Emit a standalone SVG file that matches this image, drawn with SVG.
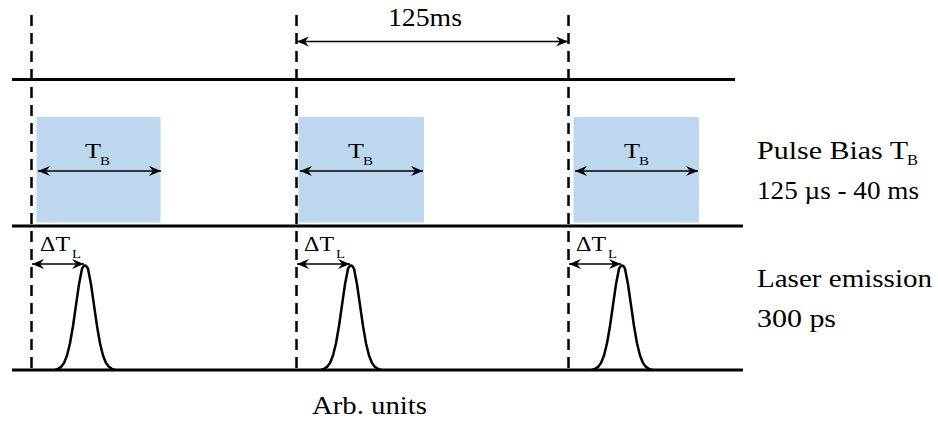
<svg xmlns="http://www.w3.org/2000/svg" width="938" height="423" viewBox="0 0 938 423">
<style>
.axis{stroke:#000;stroke-width:3;fill:none}
.dash{stroke:#000;stroke-width:2.5;stroke-dasharray:11 7;fill:none}
.bias{fill:#BDD7EE}
.arr{stroke:#000;stroke-width:1.5;fill:none;marker-start:url(#ah);marker-end:url(#ah)}
.pulse{stroke:#000;stroke-width:2.5;fill:none;stroke-linejoin:round}
.lab{font-size:25px}
.sm{font-size:20px}
.sub{font-size:12px}
.sub2{font-size:15px}
</style>
<defs>
<marker id="ah" viewBox="0 0 12 10" refX="12" refY="5" markerWidth="12" markerHeight="10" markerUnits="userSpaceOnUse" orient="auto-start-reverse">
<path d="M0,0 L12,5 L0,10 L4,5 z" fill="#000"/>
</marker>
<path id="gauss" class="pulse" d="M-30,107 L-27,105.8 L-24,103.9 L-21,100 L-18,92.5 L-15,80.3 L-12,63 L-9,42.1 L-6,21.3 L-3,5.8 Q0,-1 3,5.8 L6,21.3 L9,42.1 L12,63 L15,80.3 L18,92.5 L21,100 L24,103.9 L27,105.8 L30,107"/>
</defs>

<g id="bias-blocks">
<rect class="bias" x="36.5" y="117" width="124" height="105.5"/>
<rect class="bias" x="298.5" y="117" width="125.5" height="105.5"/>
<rect class="bias" x="573.5" y="117" width="125.5" height="105.5"/>
</g>

<g id="axes">
<line class="axis" x1="12" y1="79.5" x2="735" y2="79.5"/>
<line class="axis" x1="12" y1="226" x2="743" y2="226"/>
<line class="axis" x1="12" y1="370" x2="743" y2="370"/>
</g>

<g id="pulses">
<use href="#gauss" x="85" y="263"/>
<use href="#gauss" x="351" y="263"/>
<use href="#gauss" x="622" y="263"/>
</g>

<g id="connectors">
<line class="dash" x1="31.5" y1="15" x2="31.5" y2="370"/>
<line class="dash" x1="296.5" y1="15" x2="296.5" y2="370"/>
<line class="dash" x1="568.5" y1="15" x2="568.5" y2="370"/>
<line class="arr" x1="297" y1="41.5" x2="568" y2="41.5"/>
<line class="arr" x1="38" y1="171" x2="161" y2="171"/>
<line class="arr" x1="300" y1="171" x2="423" y2="171"/>
<line class="arr" x1="575" y1="171" x2="698" y2="171"/>
<line class="arr" x1="32" y1="264" x2="84" y2="264"/>
<line class="arr" x1="297" y1="264" x2="350" y2="264"/>
<line class="arr" x1="569" y1="264" x2="621" y2="264"/>
</g>

<g font-family="'Liberation Serif', 'Times New Roman', serif" fill="#000">
<g id="label-period">
<text class="lab" x="388" y="26" textLength="74" lengthAdjust="spacingAndGlyphs">125ms</text>
</g>

<g id="label-tb">
<text class="sm" x="85" y="158" textLength="16" lengthAdjust="spacingAndGlyphs">T</text>
<text class="sub" x="100" y="165" textLength="10" lengthAdjust="spacingAndGlyphs">B</text>
<text class="sm" x="348" y="158" textLength="16" lengthAdjust="spacingAndGlyphs">T</text>
<text class="sub" x="363" y="165" textLength="10" lengthAdjust="spacingAndGlyphs">B</text>
<text class="sm" x="624" y="158" textLength="16" lengthAdjust="spacingAndGlyphs">T</text>
<text class="sub" x="639" y="165" textLength="10" lengthAdjust="spacingAndGlyphs">B</text>
</g>

<g id="label-dtl">
<text class="sm" x="40" y="251" textLength="30" lengthAdjust="spacingAndGlyphs">ΔT</text>
<text class="sub" x="72" y="258" textLength="9" lengthAdjust="spacingAndGlyphs">L</text>
<text class="sm" x="304" y="251" textLength="30" lengthAdjust="spacingAndGlyphs">ΔT</text>
<text class="sub" x="336" y="258" textLength="9" lengthAdjust="spacingAndGlyphs">L</text>
<text class="sm" x="576" y="251" textLength="30" lengthAdjust="spacingAndGlyphs">ΔT</text>
<text class="sub" x="608" y="258" textLength="9" lengthAdjust="spacingAndGlyphs">L</text>
</g>

<g id="label-pulse-bias">
<text class="lab" x="757" y="159" textLength="151" lengthAdjust="spacingAndGlyphs">Pulse Bias T</text>
<text class="sub2" x="907" y="165" textLength="11" lengthAdjust="spacingAndGlyphs">B</text>
<text class="lab" x="757" y="199" textLength="162" lengthAdjust="spacingAndGlyphs">125 µs - 40 ms</text>
</g>

<g id="label-laser">
<text class="lab" x="757" y="287" textLength="175" lengthAdjust="spacingAndGlyphs">Laser emission</text>
<text class="lab" x="757" y="327" textLength="79" lengthAdjust="spacingAndGlyphs">300 ps</text>
</g>

<g id="label-axis">
<text class="lab" x="312" y="414" textLength="115" lengthAdjust="spacingAndGlyphs">Arb. units</text>
</g>
</g>
</svg>
